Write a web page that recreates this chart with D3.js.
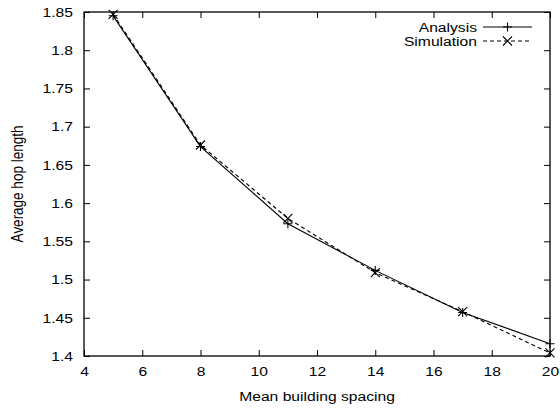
<!DOCTYPE html>
<html>
<head>
<meta charset="utf-8">
<script src="https://cdn.jsdelivr.net/npm/d3@7/dist/d3.min.js"></script>
<style>
  html, body { margin: 0; padding: 0; background: #fff; }
  svg { display: block; }
  text { font-family: "Liberation Sans", Arial, sans-serif; font-size: 13.5px; fill: #000; }
</style>
</head>
<body>
<svg id="chart" width="560" height="410"></svg>
<script>
// Mean building spacing (x) and average hop length for both series
const spacing = [5, 8, 11, 14, 17, 20];
const analysis = [1.845, 1.674, 1.573, 1.512, 1.457, 1.416];
const simulation = [1.847, 1.676, 1.580, 1.509, 1.458, 1.404];

const xTicks = [4, 6, 8, 10, 12, 14, 16, 18, 20];
const yTicks = [1.4, 1.45, 1.5, 1.55, 1.6, 1.65, 1.7, 1.75, 1.8, 1.85];
const xTitle = "Mean building spacing";
const yTitle = "Average hop length";
const seriesNames = ["Analysis", "Simulation"];

const svg = d3.select("#chart");
const L = 84, R = 550, T = 12, B = 356;
const FONT = 13.5, SX = 1.16;   // text is drawn slightly wide

const x = d3.scaleLinear().domain([4, 20]).range([L, R]);
const y = d3.scaleLinear().domain([1.4, 1.85]).range([B, T]);

const tickLen = 6;

// widen a text element horizontally around its anchor point
function widen(sel) {
  sel.each(function () {
    const t = d3.select(this);
    const tx = +t.attr("x") || 0, ty = +t.attr("y") || 0;
    t.attr("x", 0).attr("y", 0).attr("transform", `translate(${tx},${ty}) scale(${SX},1)`);
  });
}

// tick marks on all four sides, pointing inward
const xAxisB = d3.axisBottom(x).tickValues(xTicks).tickSize(-tickLen).tickPadding(10).tickFormat(d3.format("d"));
const xAxisT = d3.axisTop(x).tickValues(xTicks).tickSize(-tickLen).tickFormat("");
const yAxisL = d3.axisLeft(y).tickValues(yTicks).tickSize(-tickLen).tickPadding(11).tickFormat(d => String(+d.toFixed(2)));
const yAxisR = d3.axisRight(y).tickValues(yTicks).tickSize(-tickLen).tickFormat("");

function style(g) {
  g.select(".domain").remove();
  g.selectAll(".tick line").attr("stroke", "#000").attr("stroke-width", 1);
  g.selectAll("text")
    .attr("font-family", "Liberation Sans, Arial, sans-serif")
    .attr("font-size", FONT).attr("fill", "#000")
    .call(widen);
}

svg.append("g").attr("transform", `translate(0,${B})`).call(xAxisB).call(style);
svg.append("g").attr("transform", `translate(0,${T})`).call(xAxisT).call(style);
svg.append("g").attr("transform", `translate(${L},0)`).call(yAxisL).call(style);
svg.append("g").attr("transform", `translate(${R},0)`).call(yAxisR).call(style);

// frame
svg.append("rect")
  .attr("x", L).attr("y", T).attr("width", R - L).attr("height", B - T)
  .attr("fill", "none").attr("stroke", "#000").attr("stroke-width", 1.3);

// axis titles
svg.append("text").attr("x", (L + R) / 2).attr("y", 401).attr("text-anchor", "middle").text(xTitle).call(widen);
svg.append("text")
  .attr("transform", `translate(23,${(T + B) / 2}) rotate(-90) scale(1,${SX})`)
  .attr("text-anchor", "middle").text(yTitle);

const line = d3.line().x(d => x(d[0])).y(d => y(d[1]));
const aData = spacing.map((s, i) => [s, analysis[i]]);
const sData = spacing.map((s, i) => [s, simulation[i]]);

const plot = svg.append("g");

plot.append("path").datum(aData).attr("d", line)
  .attr("fill", "none").attr("stroke", "#000").attr("stroke-width", 1.1);
plot.append("path").datum(sData).attr("d", line)
  .attr("fill", "none").attr("stroke", "#000").attr("stroke-width", 1.1)
  .attr("stroke-dasharray", "4,3");

const m = 4.5;
function plus(g, cx, cy) {
  g.append("path").attr("d", `M${cx - m},${cy}H${cx + m}M${cx},${cy - m}V${cy + m}`)
    .attr("stroke", "#000").attr("stroke-width", 1.1).attr("fill", "none");
}
function cross(g, cx, cy) {
  g.append("path").attr("d", `M${cx - m},${cy - m}L${cx + m},${cy + m}M${cx - m},${cy + m}L${cx + m},${cy - m}`)
    .attr("stroke", "#000").attr("stroke-width", 1.1).attr("fill", "none");
}
aData.forEach(d => plus(plot, x(d[0]), y(d[1])));
sData.forEach(d => cross(plot, x(d[0]), y(d[1])));

// key in the top-right corner
const key = svg.append("g");
const keyRows = [
  { name: seriesNames[0], y: 27, dash: null, mark: plus },
  { name: seriesNames[1], y: 41, dash: "4,3", mark: cross }
];
keyRows.forEach(r => {
  key.append("text").attr("x", 477).attr("y", r.y + 5).attr("text-anchor", "end").text(r.name).call(widen);
  key.append("line").attr("x1", 483).attr("x2", 532).attr("y1", r.y).attr("y2", r.y)
    .attr("stroke", "#000").attr("stroke-width", 1.1)
    .attr("stroke-dasharray", r.dash);
  r.mark(key, 507.5, r.y);
});
</script>
</body>
</html>
